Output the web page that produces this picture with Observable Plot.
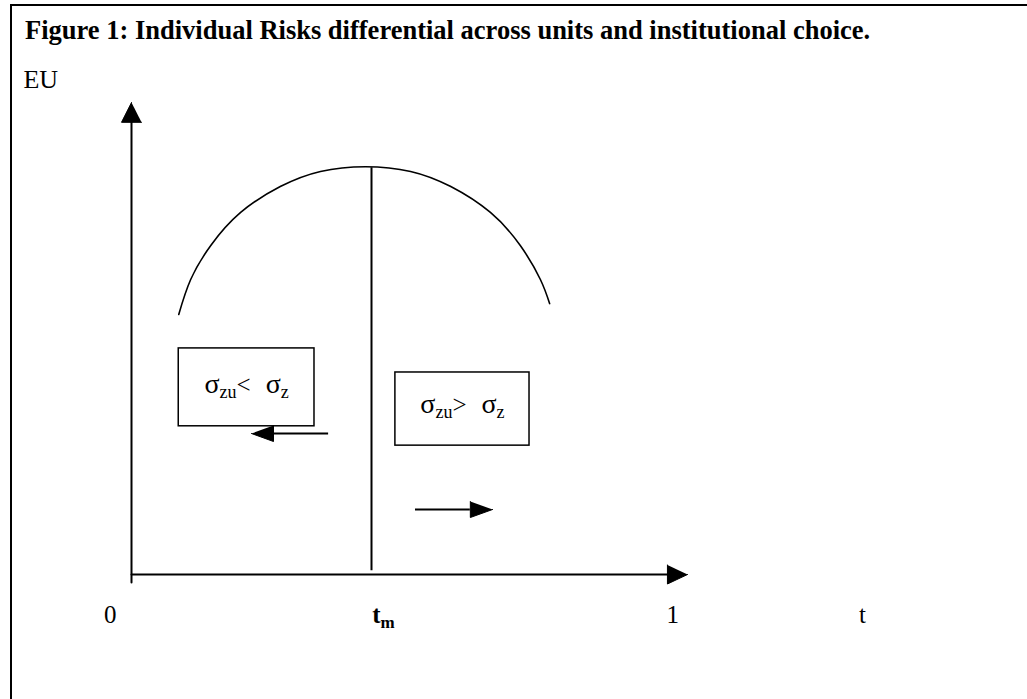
<!DOCTYPE html>
<html>
<head>
<meta charset="utf-8">
<script src="https://cdn.jsdelivr.net/npm/d3@7"></script>
<script src="https://cdn.jsdelivr.net/npm/@observablehq/plot@0.6"></script>
<style>
  html, body { margin: 0; padding: 0; background: #fff; overflow: hidden; }
  #wrap { position: relative; width: 1027px; height: 699px; overflow: hidden; }
  #frame { position: absolute; left: 10px; top: 4px; width: 1100px; height: 800px;
           border-left: 2px solid #000; border-top: 2px solid #000; box-sizing: border-box; }
  #title { position: absolute; left: 25px; top: 15px; line-height: 26px; white-space: nowrap;
           font: bold 26.5px "Liberation Serif", "Times New Roman", serif; color: #000; }
  #chart { position: absolute; left: 0; top: 0; }
  svg text { font-family: "Liberation Serif", "Times New Roman", serif; }
</style>
</head>
<body>
<div id="wrap">
  <div id="frame"></div>
  <div id="chart"></div>
  <div id="title">Figure 1: Individual Risks differential across units and institutional choice.</div>
</div>
<script>
// ---- data (t on the horizontal axis, EU on the vertical axis) ----
const curveT  = [0.087, 0.109, 0.146, 0.201, 0.274, 0.348, 0.431, 0.514, 0.588, 0.661, 0.716, 0.753, 0.770];
const curveEU = [0.551, 0.625, 0.697, 0.767, 0.822, 0.854, 0.864, 0.854, 0.822, 0.767, 0.697, 0.625, 0.574];
const tm = 0.442;
const tmLineEU = [0.008, 0.862];

const axisLabels = ["0", "tm", "1", "t"];
const axisLabelT = [-0.039, 0.464, 0.997, 1.346];
const axisLabelEU = -0.102;
const yAxisLabel = "EU";

const boxLabels = ["σzu< σz", "σzu> σz"];
const boxT1  = [0.087, 0.486];
const boxT2  = [0.337, 0.733];
const boxEU1 = [0.314, 0.273];
const boxEU2 = [0.479, 0.428];
const boxLabelEU = [0.3835, 0.343];

// direction arrows: tail t, head-base t, tip t, EU
const dirArrowTail = [0.363, 0.523];
const dirArrowBase = [0.2615, 0.624];
const dirArrowTip  = [0.221, 0.665];
const dirArrowEU   = [0.2987, 0.1377];

// ---- scales: 543 px per unit of t, 472 px per unit of EU ----
const pxT = 1 / 543, pxEU = 1 / 472;
const xDomain = [-131 * pxT, 896 * pxT];
const yDomain = [-125 * pxEU, 574 * pxEU];

const curve = curveT.map((t, i) => ({t, eu: curveEU[i]}));
const yAxis = [{t: 0, eu: -8 * pxEU}, {t: 0, eu: 0.958}];
const xAxis = [{t: 0, eu: 0}, {t: 0.987, eu: 0}];
const yHead = [{t: 0, eu: 1.0}, {t: -10 * pxT, eu: 0.958}, {t: 10 * pxT, eu: 0.958}];
const xHead = [{t: 1.024, eu: 0}, {t: 0.987, eu: -9.5 * pxEU}, {t: 0.987, eu: 9.5 * pxEU}];
const boxes = boxLabels.map((s, i) => ({x1: boxT1[i], x2: boxT2[i], y1: boxEU1[i], y2: boxEU2[i]}));
const boxText = boxLabels.map((s, i) => ({s, t: (boxT1[i] + boxT2[i]) / 2, eu: boxLabelEU[i]}));
const dirLines = dirArrowTail.map((t, i) => ({x1: t, x2: dirArrowBase[i], y: dirArrowEU[i]}));
const dirHeads = dirArrowTip.flatMap((tip, i) => [
  {k: i, t: tip, eu: dirArrowEU[i]},
  {k: i, t: dirArrowBase[i], eu: dirArrowEU[i] - 8 * pxEU},
  {k: i, t: dirArrowBase[i], eu: dirArrowEU[i] + 8 * pxEU}
]);
const labels = axisLabels.map((s, i) => ({s, t: axisLabelT[i], eu: axisLabelEU}));

const plot = Plot.plot({
  width: 1027, height: 699, margin: 0,
  x: {domain: xDomain, axis: null},
  y: {domain: yDomain, axis: null},
  style: {background: "transparent", overflow: "visible"},
  marks: [
    Plot.line(yAxis, {x: "t", y: "eu", stroke: "#000", strokeWidth: 2}),
    Plot.line(xAxis, {x: "t", y: "eu", stroke: "#000", strokeWidth: 2}),
    Plot.line(yHead, {x: "t", y: "eu", fill: "#000", stroke: "#000", strokeWidth: 1}),
    Plot.line(xHead, {x: "t", y: "eu", fill: "#000", stroke: "#000", strokeWidth: 1}),
    Plot.line(curve, {x: "t", y: "eu", curve: "natural", stroke: "#000", strokeWidth: 1.6}),
    Plot.ruleX([tm], {y1: tmLineEU[0], y2: tmLineEU[1], stroke: "#000", strokeWidth: 2}),
    Plot.rect(boxes, {x1: "x1", x2: "x2", y1: "y1", y2: "y2", fill: "none", stroke: "#000", strokeWidth: 1.5}),
    Plot.ruleY(dirLines, {x1: "x1", x2: "x2", y: "y", stroke: "#000", strokeWidth: 2}),
    Plot.line(dirHeads, {x: "t", y: "eu", z: "k", fill: "#000", stroke: "#000", strokeWidth: 1}),
    Plot.text(boxText, {x: "t", y: "eu", text: "s", lineAnchor: "bottom", textAnchor: "middle", fontSize: 26, fill: "#000"}),
    Plot.text(labels, {x: "t", y: "eu", text: "s", lineAnchor: "bottom", textAnchor: "middle", fontSize: 25, fill: "#000"}),
    Plot.text([{s: yAxisLabel, t: -0.199, eu: (574 - 87) * pxEU}], {x: "t", y: "eu", text: "s", lineAnchor: "bottom", textAnchor: "start", fontSize: 26, fill: "#000"})
  ]
});
document.getElementById("chart").appendChild(plot);

// rich text (subscripts)
const ns = "http://www.w3.org/2000/svg";
const rich = {
  "σzu< σz": [{s: "σ", size: 28}, {s: "zu", size: 18, dy: 5}, {s: "<", size: 25, dy: -5}, {s: "σ", size: 28, dx: 15}, {s: "z", size: 18, dy: 5}],
  "σzu> σz": [{s: "σ", size: 28}, {s: "zu", size: 18, dy: 5}, {s: ">", size: 25, dy: -5}, {s: "σ", size: 28, dx: 15}, {s: "z", size: 18, dy: 5}],
  "tm": [{s: "t", size: 25, bold: true}, {s: "m", size: 17, dy: 5, bold: true}]
};
plot.querySelectorAll("text").forEach(el => {
  const parts = rich[el.textContent];
  if (!parts) return;
  el.textContent = "";
  parts.forEach(p => {
    const ts = document.createElementNS(ns, "tspan");
    ts.textContent = p.s;
    ts.setAttribute("font-size", p.size);
    if (p.dy) ts.setAttribute("dy", p.dy);
    if (p.dx) ts.setAttribute("dx", p.dx);
    if (p.bold) ts.setAttribute("font-weight", "bold");
    el.appendChild(ts);
  });
});
</script>
</body>
</html>
